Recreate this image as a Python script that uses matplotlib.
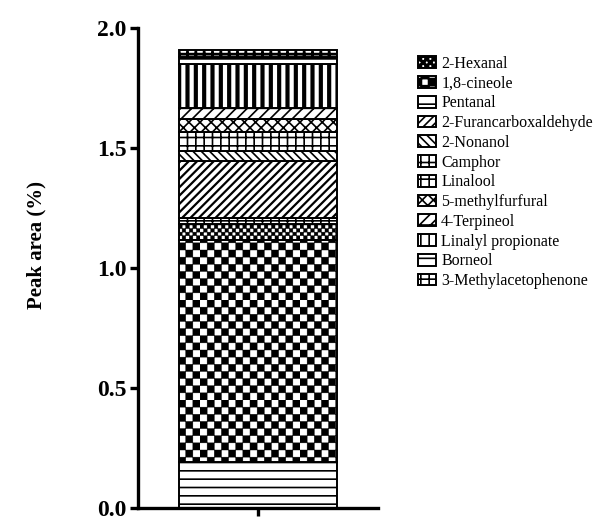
import numpy as np
import matplotlib
matplotlib.use("Agg")
import matplotlib.pyplot as plt
from matplotlib import hatch as mhatch
from matplotlib.path import Path

# ---------------- data (bottom of stack -> top) ----------------
stack_names = ["Pentanal", "1,8-cineole", "2-Hexanal", "Linalool",
               "2-Furancarboxaldehyde", "2-Nonanol", "Camphor",
               "5-methylfurfural", "4-Terpineol", "Linalyl propionate",
               "Borneol", "3-Methylacetophenone"]
stack_values = [0.19, 0.925, 0.07, 0.025, 0.2375, 0.04, 0.08,
                0.055, 0.045, 0.183, 0.029, 0.029]
legend_order = ["2-Hexanal", "1,8-cineole", "Pentanal", "2-Furancarboxaldehyde",
                "2-Nonanol", "Camphor", "Linalool", "5-methylfurfural",
                "4-Terpineol", "Linalyl propionate", "Borneol",
                "3-Methylacetophenone"]
category = [""]
y_ticks = [0.0, 0.5, 1.0, 1.5, 2.0]
y_label = "Peak area (%)"

# ---------------- custom checkerboard hatches ----------------
class _Checker(mhatch.HatchPatternBase):
    char = "O"
    cells = 14

    def __init__(self, hatch, density):
        k = hatch.count(self.char)
        self.n = self.cells * k if k else 0
        self.num_vertices = (self.n * self.n // 2) * 5

    def set_vertices_and_codes(self, vertices, codes):
        n = self.n
        s = 1.0 / n
        idx = 0
        for i in range(n):
            for j in range(n):
                if (i + j) % 2 == 0:
                    x0, y0 = i * s, j * s
                    vertices[idx:idx + 5] = [(x0, y0), (x0 + s, y0), (x0 + s, y0 + s),
                                             (x0, y0 + s), (x0, y0)]
                    codes[idx:idx + 5] = [Path.MOVETO, Path.LINETO, Path.LINETO,
                                          Path.LINETO, Path.CLOSEPOLY]
                    idx += 5


class _SmallChecker(_Checker):
    char = "o"
    cells = 28


mhatch._hatch_types = [t for t in mhatch._hatch_types
                       if t not in (mhatch.SmallCircles, mhatch.LargeCircles)]
mhatch._hatch_types += [_Checker, _SmallChecker]

hatches = {
    "Pentanal": "--",
    "1,8-cineole": "O",
    "2-Hexanal": "o",
    "Linalool": "++",
    "2-Furancarboxaldehyde": "////",
    "2-Nonanol": "\\\\\\\\",
    "Camphor": "++",
    "5-methylfurfural": "xxx",
    "4-Terpineol": "///-",
    "Linalyl propionate": "||",
    "Borneol": "-",
    "3-Methylacetophenone": "++",
}
hatch_lw = {
    "1,8-cineole": 0.3, "2-Hexanal": 0.3, "Linalyl propionate": 3.0,
    "2-Furancarboxaldehyde": 1.6, "Borneol": 2.0, "3-Methylacetophenone": 2.0,
}

plt.rcParams["font.family"] = ["Liberation Serif", "DejaVu Serif"]
plt.rcParams["hatch.linewidth"] = 1.2

fig = plt.figure(figsize=(6.05, 5.22), dpi=100)
ax = fig.add_axes([0.228, 0.027, 0.397, 0.919])

x = np.arange(len(category))
bottom = 0.0
handles = {}
for name, val in zip(stack_names, stack_values):
    bars = ax.bar(x, [val], width=0.66, bottom=bottom, color="white",
                  edgecolor="black", linewidth=1.4, hatch=hatches[name],
                  label=name)
    lw = hatch_lw.get(name, 1.2)
    for p in bars.patches:
        if hasattr(p, "set_hatch_linewidth"):
            p.set_hatch_linewidth(lw)
    handles[name] = bars.patches[0]
    bottom += val

ax.set_xlim(-0.5, 0.5)
ax.set_ylim(0, 2.0)
ax.set_yticks(y_ticks)
ax.set_yticklabels([f"{t:.1f}" for t in y_ticks], fontsize=17, fontweight="bold")
ax.set_xticks(x)
ax.set_xticklabels(category)
for s in ["top", "right"]:
    ax.spines[s].set_visible(False)
for s in ["left", "bottom"]:
    ax.spines[s].set_linewidth(2.4)
ax.tick_params(axis="both", direction="out", length=6, width=2.4, pad=2)
ax.set_ylabel(y_label, fontsize=15, fontweight="bold")
ax.yaxis.set_label_coords(-0.38, 0.548)

leg = fig.legend([handles[n] for n in legend_order], legend_order,
                 loc="upper left", bbox_to_anchor=(0.691, 0.893),
                 frameon=False, fontsize=11.5, handlelength=1.1,
                 handleheight=0.75, handletextpad=0.35, labelspacing=0.235,
                 borderpad=0, borderaxespad=0)

fig.savefig("out.png", dpi=100)
